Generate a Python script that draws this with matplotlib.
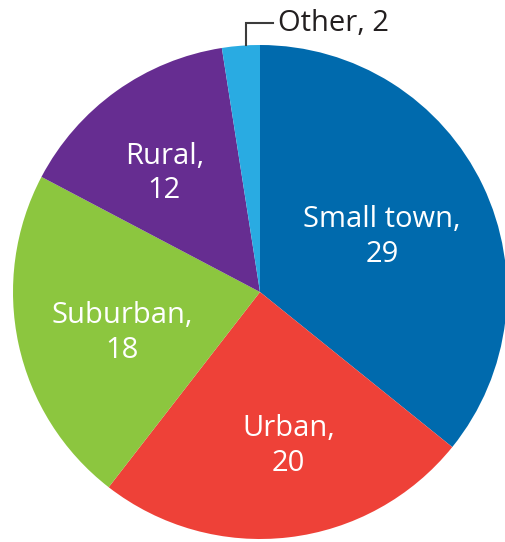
import numpy as np
import matplotlib.pyplot as plt

# survey share by community type
categories = ['Small town', 'Urban', 'Suburban', 'Rural', 'Other']
values = [29, 20, 18, 12, 2]
colors = ['#006aad', '#ee4138', '#8cc63f', '#662d91', '#29abe2']

plt.rcParams['font.family'] = ['Open Sans', 'DejaVu Sans']

fig = plt.figure(figsize=(5.06, 5.42), dpi=100)
ax = fig.add_axes([0, 0, 1, 1])

# label text for the big wedges (Other gets a leader line)
labels = [f'{c},\n{v}' for c, v in zip(categories[:-1], values[:-1])] + ['']

wedges, texts = ax.pie(values, colors=colors, startangle=90, counterclock=False,
                       labels=labels, labeldistance=0.6,
                       wedgeprops=dict(linewidth=0),
                       textprops=dict(color='white', fontsize=21, ha='center',
                                      va='center', multialignment='center',
                                      linespacing=1.25))

# small nudges so labels sit like the original
nudge = [(-0.047, -0.036), (0.045, -0.027), (0.029, -0.039), (-0.038, -0.008), (0, 0)]
for t, (dx, dy) in zip(texts, nudge):
    x, y = t.get_position()
    t.set_position((x + dx, y + dy))

# Other, with an elbow leader line
w = wedges[-1]
lo, hi = sorted([w.theta1, w.theta2])
ang = np.deg2rad(lo + 0.37 * (hi - lo))
x0, y0 = np.cos(ang), np.sin(ang)
ax.plot([x0, x0, 0.053], [y0, 1.089, 1.089], color='#3c3c3c', lw=1.5,
        solid_joinstyle='miter')
ax.text(0.073, 1.089, f'{categories[-1]}, {values[-1]}', fontsize=21,
        color='#231f20', ha='left', va='center')

# place the pie like the reference (center ~ (260, 292) px, radius ~247 px)
ax.set_xlim(-260 / 247, 246 / 247)
ax.set_ylim(-250 / 247, 292 / 247)
ax.set_aspect('auto')
ax.axis('off')

fig.savefig('out.png', dpi=100)
